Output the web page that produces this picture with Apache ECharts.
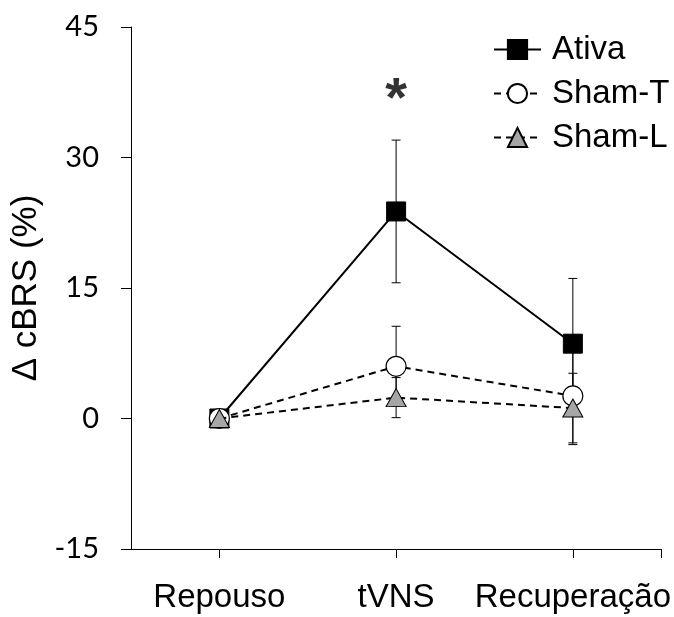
<!DOCTYPE html>
<html>
<head>
<meta charset="utf-8">
<script src="https://cdn.jsdelivr.net/npm/echarts@6/dist/echarts.min.js"></script>
<style>
  html, body { margin: 0; padding: 0; background: #fff; }
  #chart { width: 674px; height: 617px; }
</style>
</head>
<body>
<div id="chart"></div>
<script>
var categories = ['Repouso', 'tVNS', 'Recuperação'];
var ativaMean = [0, 23.8, 8.6];
var ativaErr = [0, 8.2, 7.5];
var shamTMean = [0, 6.0, 2.6];
var shamTErr = [0, 4.6, 5.6];
var shamLMean = [0, 2.4, 1.2];
var shamLErr = [0, 2.3, 4.0];
var sigMarks = [[1, 36.6]];

function points(means) {
  return means.map(function (m, i) { return [i, m]; });
}
function bars(means, errs) {
  return means.map(function (m, i) { return [i, m - errs[i], m + errs[i]]; });
}
function renderBar(params, api) {
  var x = api.value(0);
  if (api.value(1) === api.value(2)) return null;
  var lo = api.coord([x, api.value(1)]);
  var hi = api.coord([x, api.value(2)]);
  var hw = 4.5;
  var st = { stroke: '#000', lineWidth: 1 };
  return {
    type: 'group',
    children: [
      { type: 'line', shape: { x1: lo[0], y1: lo[1], x2: hi[0], y2: hi[1] }, style: st },
      { type: 'line', shape: { x1: lo[0] - hw, y1: lo[1], x2: lo[0] + hw, y2: lo[1] }, style: st },
      { type: 'line', shape: { x1: hi[0] - hw, y1: hi[1], x2: hi[0] + hw, y2: hi[1] }, style: st }
    ]
  };
}

var chartDom = document.getElementById('chart');
var myChart = echarts.init(chartDom);
var option;
option = {
  animation: false,
  grid: { left: 131, right: 8, top: 27, bottom: 68 },
  legend: {
    orient: 'vertical',
    left: 493,
    top: 33,
    padding: 0,
    itemWidth: 47,
    itemHeight: 24,
    itemGap: 11,
    data: ['Ativa', 'Sham-T', 'Sham-L'],
    textStyle: { fontFamily: 'Liberation Sans', fontSize: 33, color: '#000', lineHeight: 33, padding: [0, 0, 0, 6] }
  },
  xAxis: {
    type: 'value',
    min: -0.5,
    max: 2.5,
    splitLine: { show: false },
    axisLine: { onZero: false, lineStyle: { color: '#000', width: 1 } },
    axisTick: { show: true, length: 9, customValues: [0, 1, 2, 2.5], lineStyle: { color: '#000' } },
    axisLabel: {
      customValues: [0, 1, 2],
      margin: 32,
      fontFamily: 'Liberation Sans',
      fontSize: 33,
      color: '#000',
      formatter: function (v) { return categories[v]; }
    }
  },
  yAxis: {
    type: 'value',
    min: -15,
    max: 45,
    interval: 15,
    name: 'Δ cBRS (%)',
    nameLocation: 'middle',
    nameGap: 81,
    nameRotate: 90,
    nameTextStyle: { fontFamily: 'Liberation Sans', fontSize: 35, color: '#000' },
    splitLine: { show: false },
    axisLine: { show: true, onZero: false, lineStyle: { color: '#000', width: 1 } },
    axisTick: { show: true, length: 10, lineStyle: { color: '#000' } },
    axisLabel: { margin: 32, fontFamily: 'Lato', fontSize: 29, color: '#000' }
  },
  series: [
    {
      type: 'custom',
      name: 'errAtiva',
      renderItem: renderBar,
      data: bars(ativaMean, ativaErr),
      z: 1
    },
    {
      type: 'custom',
      name: 'errShamT',
      renderItem: renderBar,
      data: bars(shamTMean, shamTErr),
      z: 1
    },
    {
      type: 'custom',
      name: 'errShamL',
      renderItem: renderBar,
      data: bars(shamLMean, shamLErr),
      z: 1
    },
    {
      type: 'line',
      name: 'Ativa',
      data: points(ativaMean),
      symbol: 'rect',
      symbolSize: 19,
      lineStyle: { color: '#000', width: 2, type: 'solid' },
      itemStyle: { color: '#000', borderColor: '#000', borderWidth: 1 },
      z: 3
    },
    {
      type: 'line',
      name: 'Sham-T',
      data: points(shamTMean),
      symbol: 'circle',
      symbolSize: 20,
      lineStyle: { color: '#000', width: 2, type: [7, 5] },
      itemStyle: { color: '#fff', borderColor: '#000', borderWidth: 1.2 },
      z: 4
    },
    {
      type: 'line',
      name: 'Sham-L',
      data: points(shamLMean),
      symbol: 'triangle',
      symbolSize: [20, 18],
      lineStyle: { color: '#000', width: 2, type: [7, 5] },
      itemStyle: { color: '#a6a6a6', borderColor: '#000', borderWidth: 1 },
      z: 5
    },
    {
      type: 'scatter',
      name: 'sig',
      data: sigMarks,
      symbolSize: 0,
      silent: true,
      label: {
        show: true,
        position: 'inside',
        formatter: '*',
        fontFamily: 'Liberation Sans',
        fontSize: 56,
        fontWeight: 'bold',
        color: '#000'
      }
    }
  ]
};

option && myChart.setOption(option);
</script>
</body>
</html>
